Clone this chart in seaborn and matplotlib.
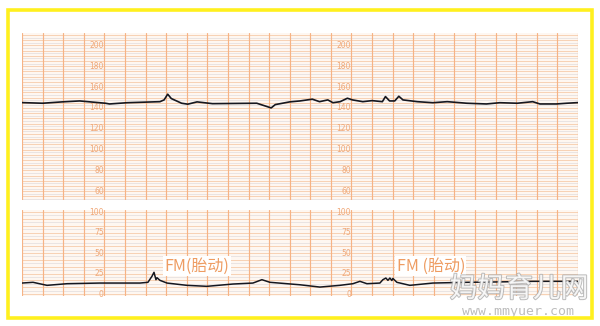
import numpy as np
import pandas as pd
import matplotlib
matplotlib.use("Agg")
import matplotlib.pyplot as plt
import matplotlib.patheffects as pe
from matplotlib.patches import Rectangle
import seaborn as sns

# ---------------- data ----------------
fhr_time = [0, 20, 39, 56, 81, 85, 102, 134, 138, 141.5, 145, 155, 161, 170, 185,
            228, 238, 242, 246, 260, 270, 282, 289, 297, 302, 309, 316, 321, 331,
            340, 350, 353, 357, 362, 366, 370, 384, 399, 413, 432, 451, 464, 481,
            496, 503, 519, 529, 540]
fhr_bpm = [145.1, 144.5, 145.8, 146.7, 144.5, 143.8, 145.0, 146.0, 147.7, 153.2,
           149.0, 144.5, 143.6, 145.8, 144.1, 144.5, 141.3, 140.0, 143.2, 145.8,
           146.7, 148.4, 146.0, 147.7, 145.0, 146.0, 149.3, 147.7, 146.0, 147.0,
           146.0, 150.9, 146.7, 146.7, 151.2, 147.7, 146.0, 145.0, 146.0, 144.5,
           143.8, 145.0, 144.5, 146.0, 143.8, 143.8, 144.5, 145.1]

toco_time = [0, 10.7, 24.3, 43.7, 75.7, 114.6, 122.3, 126.2, 128.2, 130.1, 131.1,
             134, 140.8, 160.2, 179.6, 204.9, 224.3, 233, 240.8, 257.3, 269.9,
             289.3, 308.7, 321.4, 328.2, 335, 347.6, 350.5, 353.4, 355.4, 357.3,
             359.2, 360.2, 364.1, 376.7, 399, 432, 464.1, 496.1, 539.8]
toco_value = [13.4, 14.3, 10.6, 12.6, 13.4, 13.4, 14.3, 21.6, 26.5, 17.5, 19.9,
              16.7, 13.4, 10.6, 9.4, 12.2, 13.4, 17.5, 14.3, 12.6, 11.3, 8.5,
              10.6, 12.6, 15.5, 12.6, 13.4, 17.5, 19.5, 16.7, 19.5, 16.5, 19.0,
              14.3, 10.6, 13.4, 14.3, 14.8, 15.5, 15.5]

fhr_tick_values = [200, 180, 160, 140, 120, 100, 80, 60]
fhr_tick_labels = ["200", "180", "160", "140", "120", "100", "80", "60"]
toco_tick_values = [100, 75, 50, 25, 0]
toco_tick_labels = ["100", "75", "50", "25", "0"]
label_times = [80, 320]

fm_texts = ["FM(胎动)", "FM (胎动)"]
fm_times = [170, 397]
fm_levels = [34, 34]

watermark = "妈妈育儿网"
watermark_url = "www.mmyuer.com"

# ---------------- style ----------------
sns.set_style("white")
plt.rcParams["font.family"] = ["DejaVu Sans"]

GRID_MAJOR = "#F6B385"
GRID_MINOR = "#F8D2B4"
GRID_FAINT = "#E2DCDC"
LABEL_COL = "#F0A878"
TRACE = "#15171f"
BG = "#FEF7F1"

fig = plt.figure(figsize=(6.0, 3.26), dpi=100)
fig.patch.set_facecolor("white")

W, H = 600.0, 326.0
ax_top = fig.add_axes([22 / W, 1 - 200 / H, 556 / W, 167 / H])
ax_bot = fig.add_axes([22 / W, 1 - 296 / H, 556 / W, 86 / H])

df_fhr = pd.DataFrame({"t": fhr_time, "v": fhr_bpm})
df_toco = pd.DataFrame({"t": toco_time, "v": toco_value})


def paper(ax, ylo, yhi, fine_step, faint_step):
    ax.set_facecolor(BG)
    ax.set_xlim(0, 540)
    ax.set_ylim(ylo, yhi)
    for y in np.arange(np.ceil(ylo / faint_step) * faint_step, yhi, faint_step):
        ax.axhline(y, color=GRID_FAINT, lw=0.5, zorder=0.5)
    for y in np.arange(np.ceil(ylo / fine_step) * fine_step, yhi, fine_step):
        ax.axhline(y, color=GRID_MINOR, lw=0.7, zorder=0.6)
    for x in np.arange(0, 541, 20):
        ax.axvline(x, color=GRID_MAJOR, lw=0.85, zorder=0.7)
    ax.set_xticks([])
    ax.set_yticks([])
    for s in ax.spines.values():
        s.set_visible(False)


paper(ax_top, 51.5, 212.0, 5, 2.5)
paper(ax_bot, -2.4, 102.5, 100 / 12, 100 / 24)

for lt in label_times:
    for v, s in zip(fhr_tick_values, fhr_tick_labels):
        ax_top.text(lt - 0.5, v, s, ha="right", va="center", fontsize=5.5,
                    color=LABEL_COL, zorder=1)
    for v, s in zip(toco_tick_values, toco_tick_labels):
        ax_bot.text(lt - 0.5, v, s, ha="right", va="center", fontsize=5.5,
                    color=LABEL_COL, zorder=1)

sns.lineplot(data=df_fhr, x="t", y="v", ax=ax_top, color=TRACE, lw=1.2,
             estimator=None, sort=False, zorder=3)
sns.lineplot(data=df_toco, x="t", y="v", ax=ax_bot, color=TRACE, lw=1.1,
             estimator=None, sort=False, zorder=3)
for ax in (ax_top, ax_bot):
    ax.set_xlabel("")
    ax.set_ylabel("")
    ax.set_xlim(0, 540)
ax_top.set_ylim(51.5, 212.0)
ax_bot.set_ylim(-2.4, 102.5)

for s, t, v in zip(fm_texts, fm_times, fm_levels):
    ax_bot.text(t, v, s, ha="center", va="center", fontsize=11.5,
                color="#EE9C62", family=["Noto Sans CJK SC", "DejaVu Sans"],
                bbox=dict(facecolor="white", edgecolor="none", pad=1.0),
                zorder=2)

# watermark
fig.text(519 / W, 1 - 289 / H, watermark, ha="center", va="center",
         fontsize=20, color="white", style="italic",
         family=["Noto Sans CJK SC", "DejaVu Sans"], alpha=0.85,
         path_effects=[pe.withStroke(linewidth=1.4, foreground="#b0b0b0")],
         zorder=10)
fig.text(518 / W, 1 - 311 / H, watermark_url, ha="center", va="center",
         fontsize=9.5, color="#bdbdbd", family=["DejaVu Sans Mono"],
         zorder=10)

# yellow frame
fig.patches.append(Rectangle((8 / W, 1 - 318 / H), 584 / W, 308 / H,
                             transform=fig.transFigure, fill=False,
                             edgecolor="#FFF01E", lw=2.6, zorder=20))

fig.savefig("out.png", dpi=100, facecolor="white")
